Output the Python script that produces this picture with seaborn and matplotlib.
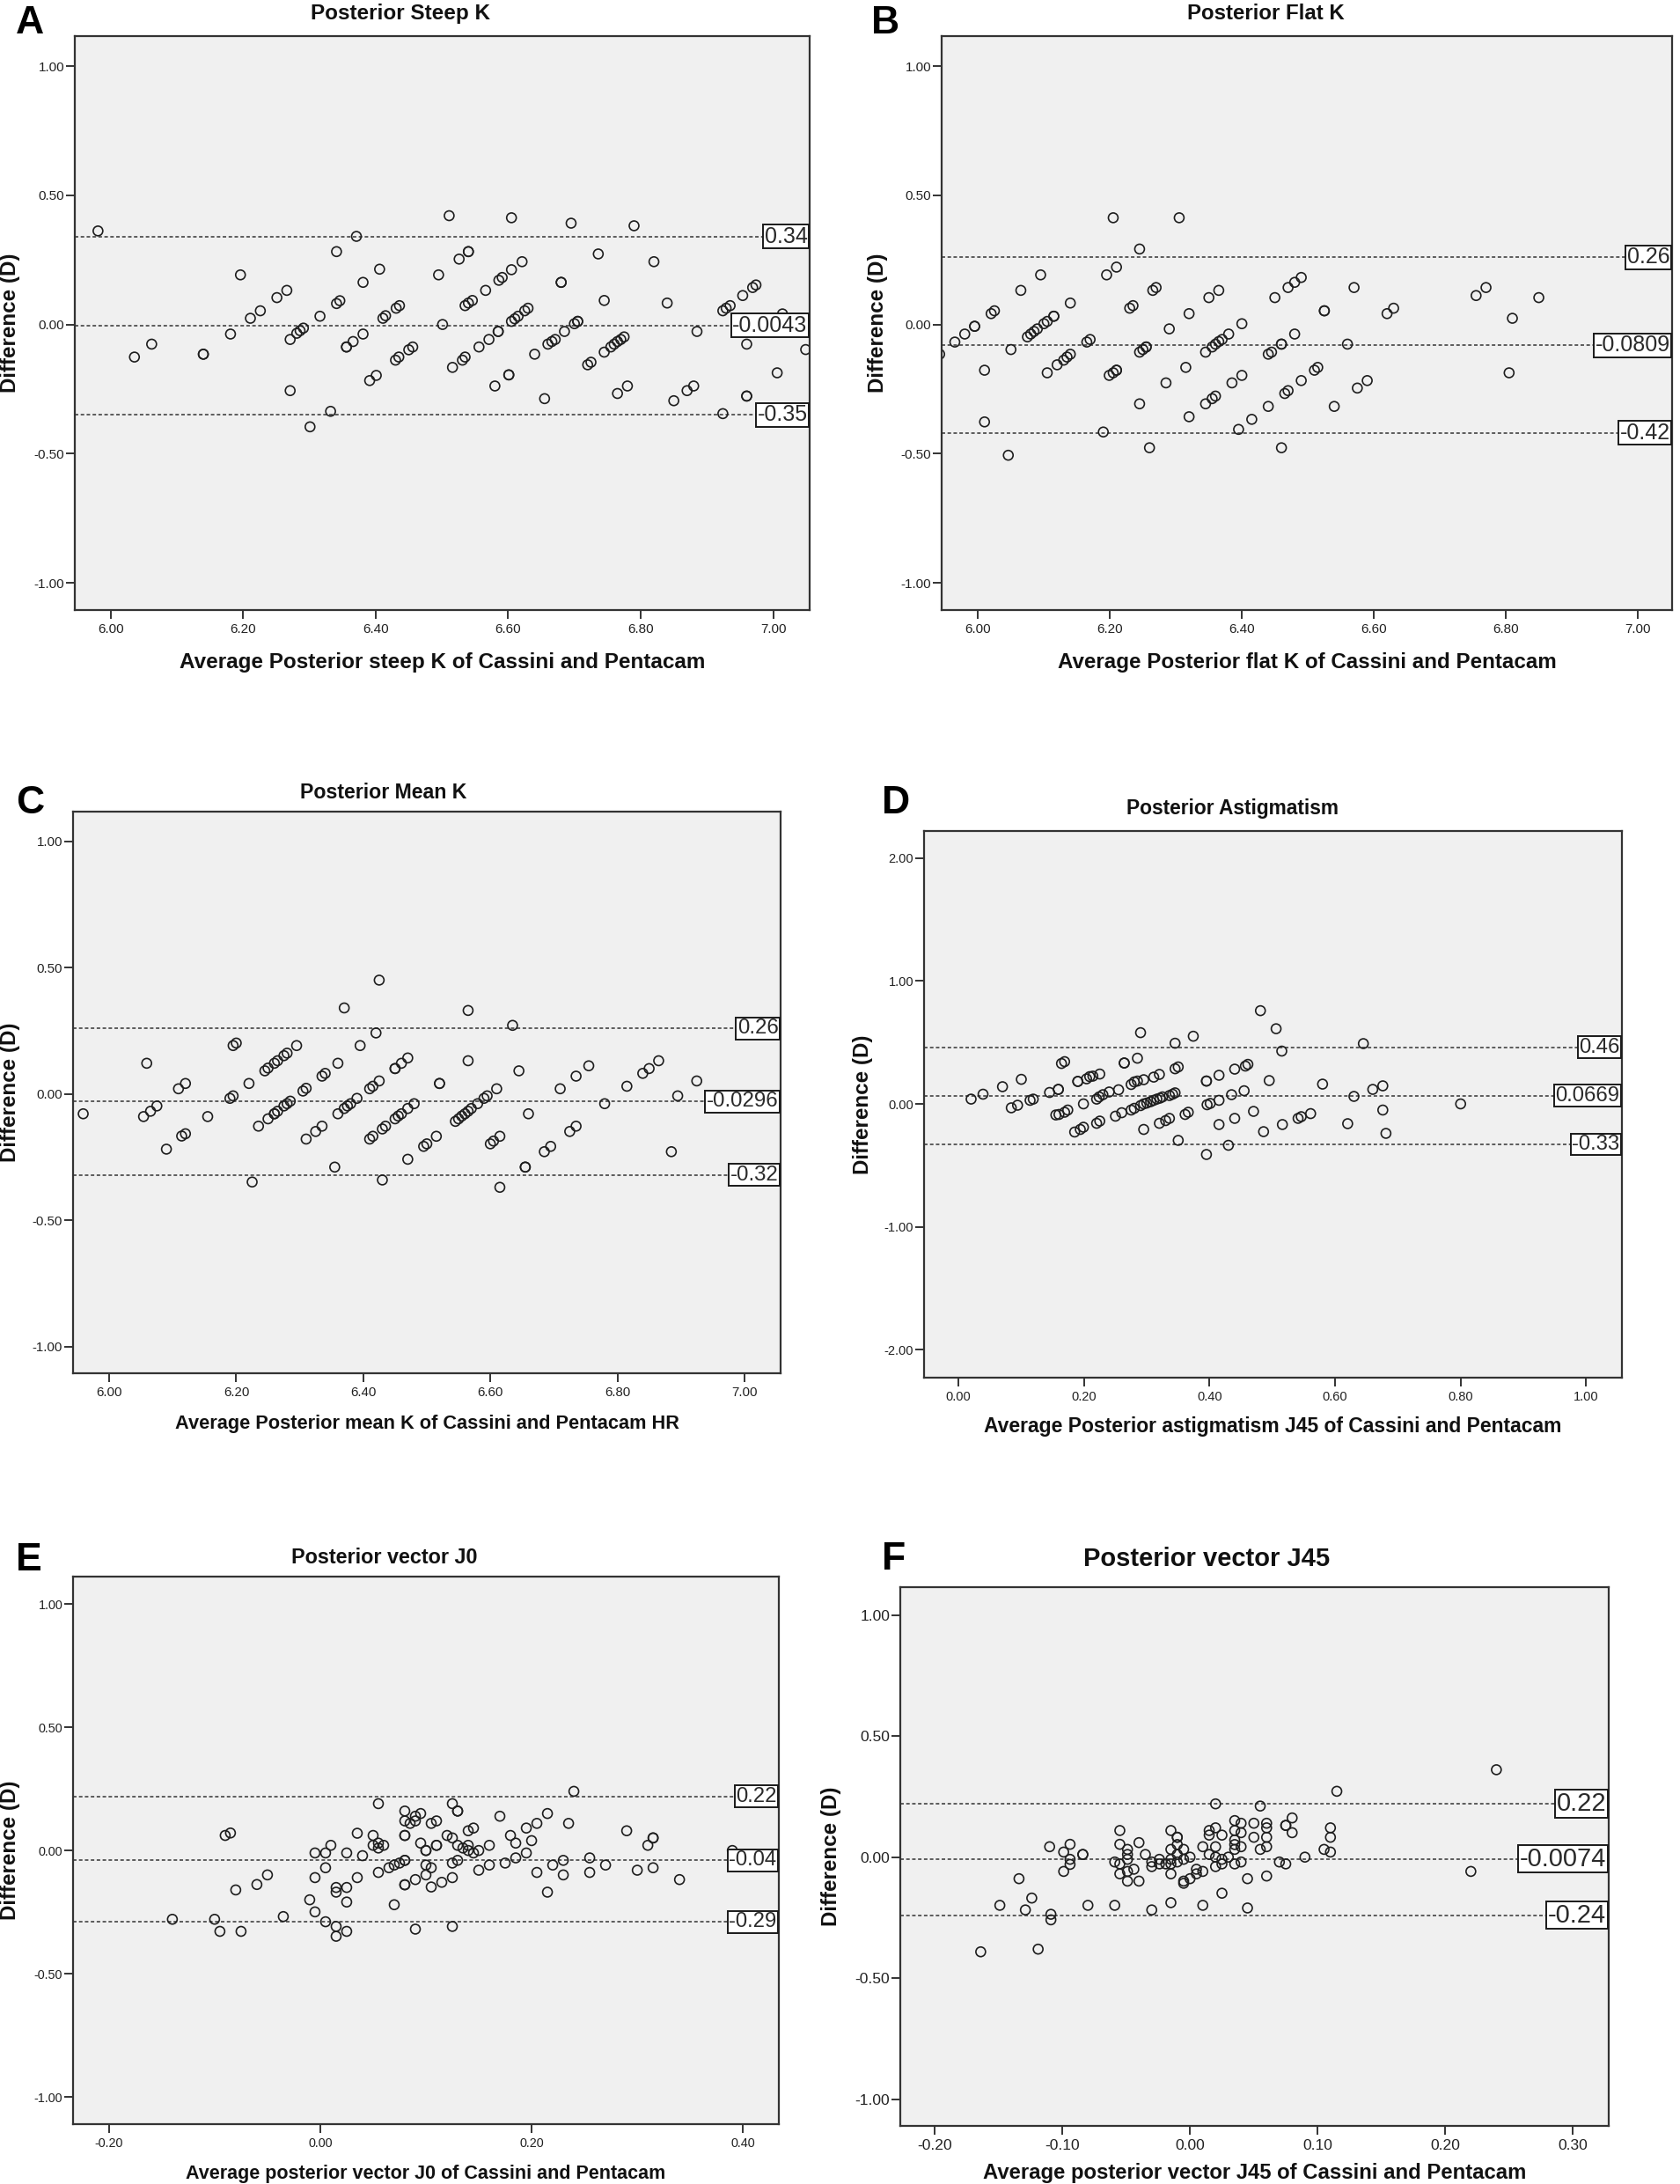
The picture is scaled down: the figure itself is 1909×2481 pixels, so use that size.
import matplotlib
matplotlib.use("Agg")
import matplotlib.pyplot as plt
import matplotlib.ticker as mticker
import matplotlib.transforms as mtransforms
import numpy as np
import seaborn as sns

# Bland-Altman data: (average, difference)
steep_k = [(5.981, 0.362), (6.036, -0.126), (6.062, -0.076), (6.140, -0.115), (6.140, -0.115), (6.181, -0.037),
           (6.196, 0.192), (6.211, 0.024), (6.226, 0.053), (6.251, 0.104), (6.266, 0.132), (6.271, -0.058),
           (6.271, -0.256), (6.281, -0.034), (6.286, -0.024), (6.291, -0.014), (6.301, -0.396), (6.316, 0.032),
           (6.332, -0.336), (6.341, 0.282), (6.341, 0.081), (6.346, 0.092), (6.356, -0.087), (6.356, -0.087),
           (6.366, -0.066), (6.371, 0.341), (6.381, 0.163), (6.381, -0.037), (6.391, -0.217), (6.401, -0.197),
           (6.406, 0.214), (6.411, 0.024), (6.415, 0.034), (6.430, -0.138), (6.435, -0.126), (6.431, 0.063),
           (6.436, 0.073), (6.450, -0.098), (6.456, -0.087), (6.495, 0.192), (6.501, 0.000), (6.511, 0.421),
           (6.516, -0.166), (6.526, 0.253), (6.531, -0.138), (6.535, -0.126), (6.535, 0.073), (6.540, 0.282),
           (6.540, 0.282), (6.540, 0.083), (6.546, 0.093), (6.556, -0.087), (6.566, 0.132), (6.571, -0.058),
           (6.580, -0.238), (6.585, -0.027), (6.585, -0.027), (6.586, 0.171), (6.591, 0.182), (6.601, -0.195),
           (6.601, -0.195), (6.605, 0.413), (6.605, 0.012), (6.605, 0.212), (6.610, 0.022), (6.615, 0.032),
           (6.621, 0.243), (6.625, 0.053), (6.630, 0.063), (6.640, -0.115), (6.655, -0.287), (6.660, -0.076),
           (6.666, -0.066), (6.671, -0.058), (6.680, 0.163), (6.680, 0.163), (6.685, -0.027), (6.695, 0.392),
           (6.700, 0.003), (6.705, 0.012), (6.705, 0.012), (6.720, -0.156), (6.725, -0.146), (6.736, 0.273),
           (6.745, 0.093), (6.745, -0.107), (6.755, -0.087), (6.760, -0.076), (6.765, -0.066), (6.770, -0.058),
           (6.775, -0.048), (6.765, -0.267), (6.780, -0.238), (6.790, 0.382), (6.820, 0.243), (6.840, 0.083),
           (6.850, -0.295), (6.870, -0.256), (6.880, -0.238), (6.885, -0.027), (6.924, 0.053), (6.929, 0.063),
           (6.935, 0.073), (6.924, -0.345), (6.954, 0.112), (6.960, -0.076), (6.960, -0.277), (6.960, -0.277),
           (6.969, 0.143), (6.974, 0.153), (7.006, -0.187), (7.014, 0.041), (7.049, -0.097)]

flat_k = [(5.942, -0.115), (5.965, -0.068), (5.980, -0.037), (5.995, -0.007), (5.995, -0.007), (6.010, -0.177),
          (6.010, -0.377), (6.020, 0.042), (6.025, 0.053), (6.046, -0.506), (6.050, -0.097), (6.065, 0.132),
          (6.075, -0.048), (6.080, -0.037), (6.085, -0.027), (6.090, -0.017), (6.095, 0.192), (6.100, 0.003),
          (6.105, 0.012), (6.105, -0.187), (6.115, 0.032), (6.115, 0.032), (6.120, -0.156), (6.130, -0.138),
          (6.135, -0.126), (6.140, -0.115), (6.140, 0.083), (6.165, -0.068), (6.170, -0.058), (6.190, -0.416),
          (6.195, 0.192), (6.199, -0.197), (6.205, 0.413), (6.205, -0.187), (6.210, -0.177), (6.210, -0.177),
          (6.210, 0.222), (6.230, 0.063), (6.235, 0.073), (6.245, 0.292), (6.245, -0.107), (6.245, -0.307),
          (6.250, -0.097), (6.255, -0.087), (6.255, -0.087), (6.260, -0.477), (6.265, 0.132), (6.270, 0.143),
          (6.285, -0.226), (6.290, -0.017), (6.305, 0.413), (6.315, -0.166), (6.320, 0.042), (6.320, -0.357),
          (6.345, -0.307), (6.345, -0.107), (6.350, 0.104), (6.355, -0.287), (6.355, -0.087), (6.360, -0.076),
          (6.360, -0.277), (6.365, -0.066), (6.365, 0.132), (6.370, -0.058), (6.380, -0.037), (6.385, -0.226),
          (6.395, -0.406), (6.400, -0.197), (6.400, 0.003), (6.415, -0.367), (6.440, -0.317), (6.440, -0.115),
          (6.445, -0.107), (6.450, 0.104), (6.460, -0.076), (6.460, -0.076), (6.460, -0.477), (6.465, -0.267),
          (6.470, -0.256), (6.470, 0.143), (6.480, -0.037), (6.480, 0.163), (6.490, 0.182), (6.490, -0.217),
          (6.510, -0.177), (6.515, -0.166), (6.525, 0.053), (6.525, 0.053), (6.540, -0.317), (6.560, -0.076),
          (6.570, 0.143), (6.575, -0.246), (6.590, -0.217), (6.620, 0.042), (6.630, 0.063), (6.755, 0.112),
          (6.770, 0.143), (6.805, -0.187), (6.810, 0.024), (6.850, 0.104)]

mean_k = [(5.959, -0.078), (6.054, -0.089), (6.059, 0.122), (6.065, -0.068), (6.075, -0.047), (6.090, -0.218),
          (6.109, 0.021), (6.114, -0.166), (6.120, 0.042), (6.120, -0.157), (6.155, -0.089), (6.190, -0.017),
          (6.195, -0.007), (6.195, 0.192), (6.200, 0.202), (6.220, 0.042), (6.225, -0.348), (6.235, -0.127),
          (6.245, 0.092), (6.250, 0.103), (6.250, -0.098), (6.260, 0.122), (6.260, -0.078), (6.260, -0.078),
          (6.265, 0.132), (6.265, -0.068), (6.275, 0.152), (6.275, -0.047), (6.280, 0.162), (6.280, -0.038),
          (6.285, -0.028), (6.295, 0.192), (6.305, 0.012), (6.310, 0.023), (6.310, -0.178), (6.325, -0.148),
          (6.335, -0.127), (6.335, 0.071), (6.340, 0.082), (6.355, -0.289), (6.360, -0.078), (6.360, 0.122),
          (6.370, 0.341), (6.370, -0.057), (6.375, -0.047), (6.380, -0.038), (6.390, -0.017), (6.395, 0.192),
          (6.410, -0.178), (6.410, 0.021), (6.415, -0.167), (6.415, 0.031), (6.420, 0.242), (6.425, 0.052),
          (6.425, 0.451), (6.430, -0.340), (6.430, -0.138), (6.435, -0.127), (6.450, -0.098), (6.450, 0.101),
          (6.450, 0.101), (6.455, -0.087), (6.460, -0.078), (6.460, 0.122), (6.470, -0.057), (6.470, 0.143),
          (6.470, -0.258), (6.480, -0.038), (6.495, -0.207), (6.500, -0.197), (6.515, -0.167), (6.520, 0.042),
          (6.520, 0.042), (6.545, -0.108), (6.550, -0.098), (6.555, -0.087), (6.560, -0.078), (6.565, -0.068),
          (6.565, 0.331), (6.565, 0.132), (6.570, -0.057), (6.580, -0.038), (6.590, -0.017), (6.595, -0.007),
          (6.600, -0.197), (6.605, -0.186), (6.610, 0.021), (6.615, -0.167), (6.615, -0.369), (6.635, 0.272),
          (6.645, 0.092), (6.655, -0.289), (6.655, -0.289), (6.660, -0.078), (6.685, -0.228), (6.695, -0.207),
          (6.710, 0.021), (6.725, -0.148), (6.735, -0.127), (6.735, 0.071), (6.755, 0.112), (6.780, -0.038),
          (6.815, 0.031), (6.840, 0.082), (6.850, 0.101), (6.865, 0.132), (6.885, -0.228), (6.895, -0.007),
          (6.925, 0.052)]

astig = [(0.020, 0.039), (0.039, 0.079), (0.070, 0.140), (0.084, -0.032), (0.094, -0.011), (0.100, 0.200),
         (0.114, 0.029), (0.119, 0.039), (0.145, 0.093), (0.155, -0.090), (0.159, 0.118), (0.159, 0.118),
         (0.160, -0.086), (0.164, 0.329), (0.169, 0.344), (0.169, -0.068), (0.174, -0.050), (0.185, -0.229),
         (0.190, 0.183), (0.190, 0.183), (0.194, -0.208), (0.199, -0.190), (0.199, 0.000), (0.204, 0.204),
         (0.209, 0.222), (0.214, 0.226), (0.220, 0.039), (0.220, -0.158), (0.224, 0.057), (0.225, -0.140),
         (0.225, 0.243), (0.230, 0.075), (0.240, 0.097), (0.250, -0.100), (0.255, 0.115), (0.260, -0.072),
         (0.264, 0.333), (0.264, 0.333), (0.275, -0.050), (0.275, 0.158), (0.280, -0.036), (0.280, 0.179),
         (0.285, 0.372), (0.285, 0.186), (0.290, 0.580), (0.290, -0.014), (0.295, -0.208), (0.295, 0.000),
         (0.295, 0.197), (0.300, 0.007), (0.306, 0.018), (0.311, 0.029), (0.311, 0.218), (0.316, 0.039),
         (0.320, -0.158), (0.320, 0.240), (0.321, 0.047), (0.325, 0.057), (0.330, -0.136), (0.336, -0.118),
         (0.336, 0.068), (0.341, 0.079), (0.345, 0.494), (0.345, 0.090), (0.345, 0.286), (0.350, 0.301),
         (0.350, -0.297), (0.361, -0.086), (0.366, -0.068), (0.374, 0.551), (0.395, 0.186), (0.395, 0.186),
         (0.395, -0.412), (0.396, -0.007), (0.401, 0.004), (0.415, -0.168), (0.415, 0.233), (0.415, 0.029),
         (0.430, -0.337), (0.435, 0.075), (0.440, -0.118), (0.440, 0.283), (0.455, 0.107), (0.457, 0.308),
         (0.461, 0.322), (0.470, -0.061), (0.481, 0.759), (0.486, -0.226), (0.495, 0.190), (0.506, 0.612),
         (0.515, 0.430), (0.516, -0.168), (0.541, -0.118), (0.546, -0.104), (0.561, -0.079), (0.580, 0.161),
         (0.620, -0.161), (0.630, 0.061), (0.645, 0.491), (0.660, 0.118), (0.676, 0.147), (0.676, -0.050),
         (0.681, -0.240), (0.800, 0.000)]

vector_j0 = [(-0.140, -0.279), (-0.100, -0.279), (-0.095, -0.328), (-0.090, 0.061), (-0.085, 0.071),
             (-0.080, -0.160), (-0.075, -0.328), (-0.060, -0.138), (-0.050, -0.099), (-0.035, -0.268),
             (-0.010, -0.200), (-0.005, -0.010), (-0.005, -0.110), (-0.005, -0.249), (0.005, -0.010),
             (0.005, -0.070), (0.005, -0.289), (0.010, 0.021), (0.015, -0.150), (0.015, -0.169), (0.015, -0.308),
             (0.015, -0.348), (0.025, -0.010), (0.025, -0.150), (0.025, -0.209), (0.025, -0.328), (0.035, 0.070),
             (0.035, -0.110), (0.040, -0.021), (0.050, 0.061), (0.050, 0.021), (0.055, 0.190), (0.055, 0.030),
             (0.055, 0.010), (0.055, -0.089), (0.060, 0.021), (0.065, -0.070), (0.070, -0.059), (0.070, -0.220),
             (0.075, -0.051), (0.080, -0.040), (0.080, -0.040), (0.080, 0.160), (0.080, 0.120), (0.080, 0.061),
             (0.080, 0.061), (0.080, -0.139), (0.080, -0.139), (0.085, 0.110), (0.090, 0.139), (0.090, 0.120),
             (0.090, -0.118), (0.090, -0.319), (0.095, 0.150), (0.095, 0.030), (0.100, 0.000), (0.100, 0.000),
             (0.100, -0.059), (0.100, -0.099), (0.105, 0.110), (0.105, -0.070), (0.105, -0.148), (0.110, 0.120),
             (0.110, 0.021), (0.110, 0.021), (0.115, -0.129), (0.120, 0.061), (0.125, 0.190), (0.125, 0.051),
             (0.125, -0.051), (0.125, -0.110), (0.125, -0.308), (0.130, 0.160), (0.130, 0.160), (0.130, 0.021),
             (0.130, -0.040), (0.135, 0.010), (0.140, 0.080), (0.140, 0.021), (0.140, 0.000), (0.145, 0.091),
             (0.145, -0.010), (0.150, 0.000), (0.150, -0.080), (0.160, 0.021), (0.160, -0.059), (0.170, 0.139),
             (0.175, -0.051), (0.180, 0.061), (0.185, 0.030), (0.185, -0.030), (0.195, 0.091), (0.195, -0.010),
             (0.200, 0.040), (0.205, 0.110), (0.205, -0.089), (0.215, 0.150), (0.215, -0.169), (0.220, -0.059),
             (0.230, -0.040), (0.230, -0.099), (0.235, 0.110), (0.240, 0.240), (0.255, -0.030), (0.255, -0.089),
             (0.270, -0.059), (0.290, 0.080), (0.300, -0.080), (0.310, 0.021), (0.315, 0.051), (0.315, 0.051),
             (0.315, -0.070), (0.340, -0.118), (0.390, 0.000)]

vector_j45 = [(-0.164, -0.391), (-0.149, -0.199), (-0.134, -0.089), (-0.129, -0.218), (-0.124, -0.169),
              (-0.119, -0.380), (-0.110, 0.043), (-0.109, -0.236), (-0.109, -0.259), (-0.099, 0.021),
              (-0.099, -0.059), (-0.094, 0.053), (-0.094, -0.009), (-0.094, -0.030), (-0.084, 0.011),
              (-0.084, 0.011), (-0.080, -0.199), (-0.059, -0.020), (-0.059, -0.199), (-0.055, 0.110),
              (-0.055, 0.053), (-0.055, -0.028), (-0.055, -0.069), (-0.049, 0.032), (-0.049, 0.011),
              (-0.049, -0.009), (-0.049, -0.059), (-0.049, -0.099), (-0.044, -0.050), (-0.040, 0.060),
              (-0.040, -0.099), (-0.035, 0.011), (-0.030, -0.020), (-0.030, -0.039), (-0.030, -0.218),
              (-0.024, -0.009), (-0.024, -0.028), (-0.019, -0.028), (-0.015, 0.110), (-0.015, 0.032),
              (-0.015, -0.009), (-0.015, -0.028), (-0.015, -0.069), (-0.015, -0.188), (-0.010, 0.082),
              (-0.010, 0.082), (-0.010, 0.052), (-0.010, 0.011), (-0.010, -0.020), (-0.005, 0.032),
              (-0.005, -0.009), (-0.005, -0.099), (-0.005, -0.108), (0.000, 0.000), (0.000, -0.089),
              (0.005, -0.050), (0.005, -0.069), (0.010, 0.043), (0.010, -0.059), (0.010, -0.199), (0.015, 0.110),
              (0.015, 0.091), (0.015, 0.011), (0.020, 0.220), (0.020, 0.121), (0.020, 0.043), (0.020, 0.000),
              (0.020, -0.039), (0.025, 0.091), (0.025, -0.009), (0.025, -0.028), (0.025, -0.149), (0.030, 0.000),
              (0.035, 0.151), (0.035, 0.110), (0.035, 0.071), (0.035, 0.052), (0.035, 0.032), (0.035, -0.028),
              (0.040, 0.140), (0.040, 0.101), (0.040, 0.043), (0.040, -0.020), (0.045, -0.089), (0.045, -0.210),
              (0.050, 0.140), (0.050, 0.082), (0.055, 0.211), (0.055, 0.032), (0.060, 0.140), (0.060, 0.121),
              (0.060, 0.082), (0.060, 0.043), (0.060, -0.078), (0.070, -0.020), (0.075, 0.131), (0.075, 0.131),
              (0.075, -0.028), (0.080, 0.162), (0.080, 0.101), (0.090, 0.000), (0.105, 0.032), (0.110, 0.121),
              (0.110, 0.082), (0.110, 0.021), (0.115, 0.272), (0.220, -0.059), (0.240, 0.361)]

# upper limit of agreement, mean difference, lower limit of agreement
steep_k_lines = [0.34, -0.0043, -0.35]
flat_k_lines = [0.26, -0.0809, -0.42]
mean_k_lines = [0.26, -0.0296, -0.32]
astig_lines = [0.46, 0.0669, -0.33]
j0_lines = [0.22, -0.04, -0.29]
j45_lines = [0.22, -0.0074, -0.24]

steep_k_labels = ["0.34", "-0.0043", "-0.35"]
flat_k_labels = ["0.26", "-0.0809", "-0.42"]
mean_k_labels = ["0.26", "-0.0296", "-0.32"]
astig_labels = ["0.46", "0.0669", "-0.33"]
j0_labels = ["0.22", "-0.04", "-0.29"]
j45_labels = ["0.22", "-0.0074", "-0.24"]

titles = ["Posterior Steep K", "Posterior Flat K", "Posterior Mean K",
          "Posterior Astigmatism", "Posterior vector J0", "Posterior vector J45"]
xlabels = ["Average Posterior steep K of Cassini and Pentacam",
           "Average Posterior flat K of Cassini and Pentacam",
           "Average Posterior mean K of Cassini and Pentacam HR",
           "Average Posterior astigmatism J45 of Cassini and Pentacam",
           "Average posterior vector J0 of Cassini and Pentacam",
           "Average posterior vector J45 of Cassini and Pentacam"]
letters = ["A", "B", "C", "D", "E", "F"]

k_ticks = [6.0, 6.2, 6.4, 6.6, 6.8, 7.0]
astig_ticks = [0.0, 0.2, 0.4, 0.6, 0.8, 1.0]
j0_ticks = [-0.2, 0.0, 0.2, 0.4]
j45_ticks = [-0.2, -0.1, 0.0, 0.1, 0.2, 0.3]
diff_ticks = [-1.0, -0.5, 0.0, 0.5, 1.0]
astig_diff_ticks = [-2.0, -1.0, 0.0, 1.0, 2.0]

sns.set_style("white")
plt.rcParams["font.family"] = ["Liberation Sans", "DejaVu Sans"]

W, H = 1909, 2481
fig = plt.figure(figsize=(W / 100, H / 100), dpi=100)


def fx(px):
    return px / W


def fy(py):
    return 1 - py / H


panels = [
    dict(pts=steep_k, lines=steep_k_lines, labels=steep_k_labels, box=(85, 920, 41, 693),
         xlim=(5.946, 7.055), ylim=(-1.105, 1.116), xticks=k_ticks, yticks=diff_ticks,
         title_xy=(455, 22), title_fs=17.5, letter_xy=(18, 38), xlabel_y=752, xlabel_fs=17.5,
         ylabel_x=12, tick_fs=11, lab_fs=18),
    dict(pts=flat_k, lines=flat_k_lines, labels=flat_k_labels, box=(1070, 1900, 41, 693),
         xlim=(5.945, 7.052), ylim=(-1.105, 1.116), xticks=k_ticks, yticks=diff_ticks,
         title_xy=(1438, 22), title_fs=17.3, letter_xy=(990, 38), xlabel_y=752, xlabel_fs=17.4,
         ylabel_x=998, tick_fs=11, lab_fs=18),
    dict(pts=mean_k, lines=mean_k_lines, labels=mean_k_labels, box=(83, 887, 922, 1560),
         xlim=(5.943, 7.057), ylim=(-1.105, 1.118), xticks=k_ticks, yticks=diff_ticks,
         title_xy=(436, 907), title_fs=16.7, letter_xy=(18, 924), xlabel_y=1617, xlabel_fs=15.7,
         ylabel_x=12, tick_fs=10.8, lab_fs=17.3),
    dict(pts=astig, lines=astig_lines, labels=astig_labels, box=(1050, 1843, 944, 1565),
         xlim=(-0.055, 1.057), ylim=(-2.229, 2.222), xticks=astig_ticks, yticks=astig_diff_ticks,
         title_xy=(1400, 925), title_fs=16.4, letter_xy=(1002, 924), xlabel_y=1620, xlabel_fs=16.5,
         ylabel_x=981, tick_fs=10.5, lab_fs=17.2),
    dict(pts=vector_j0, lines=j0_lines, labels=j0_labels, box=(83, 885, 1791, 2413),
         xlim=(-0.234, 0.434), ylim=(-1.11, 1.111), xticks=j0_ticks, yticks=diff_ticks,
         title_xy=(437, 1776), title_fs=16.8, letter_xy=(18, 1784), xlabel_y=2469, xlabel_fs=15.5,
         ylabel_x=12, tick_fs=10.4, lab_fs=17.2),
    dict(pts=vector_j45, lines=j45_lines, labels=j45_labels, box=(1023, 1828, 1803, 2415),
         xlim=(-0.227, 0.328), ylim=(-1.11, 1.115), xticks=j45_ticks, yticks=diff_ticks,
         title_xy=(1371, 1779), title_fs=21, letter_xy=(1002, 1783), xlabel_y=2469, xlabel_fs=17.2,
         ylabel_x=945, tick_fs=12.6, lab_fs=21),
]

for i, p in enumerate(panels):
    left, right, top, bottom = p["box"]
    ax = fig.add_axes([fx(left), fy(bottom), (right - left) / W, (bottom - top) / H])
    ax.set_facecolor("#f0f0f0")

    xs = [pt[0] for pt in p["pts"]]
    ys = [pt[1] for pt in p["pts"]]
    sns.scatterplot(x=xs, y=ys, ax=ax, marker="o", s=62, facecolor="none",
                    edgecolor="#1e1e1e", linewidth=1.2, zorder=2)

    width_px = right - left
    pad_px = 0.06 * p["lab_fs"] * 100 / 72
    trans = mtransforms.blended_transform_factory(ax.transAxes, ax.transData)
    for val, lab in zip(p["lines"], p["labels"]):
        ax.axhline(val, color="#333333", lw=1.1, ls=(0, (2.6, 1.8)), zorder=1)
        ax.text(1 - (pad_px + 1) / width_px, val, lab, transform=trans, ha="right", va="center",
                fontsize=p["lab_fs"], color="#2a2a2a", zorder=5,
                bbox=dict(boxstyle="square,pad=0.06", fc="white", ec="#1a1a1a", lw=1.4))

    ax.set_xlim(*p["xlim"])
    ax.set_ylim(*p["ylim"])
    ax.set_xticks(p["xticks"])
    ax.set_yticks(p["yticks"])
    ax.xaxis.set_major_formatter(mticker.FormatStrFormatter("%.2f"))
    ax.yaxis.set_major_formatter(mticker.FormatStrFormatter("%.2f"))
    ax.tick_params(axis="both", which="major", direction="out", length=7.5, width=1.4,
                   color="#333333", labelsize=p["tick_fs"], labelcolor="#222222",
                   left=True, bottom=True, top=False, right=False)
    ax.tick_params(axis="y", pad=1)
    ax.tick_params(axis="x", pad=3)
    for sp in ax.spines.values():
        sp.set_color("#333333")
        sp.set_linewidth(1.6)
        sp.set_visible(True)
    ax.set_xlabel("")
    ax.set_ylabel("")

    cx = (left + right) / 2
    cy = (top + bottom) / 2
    fig.text(fx(p["title_xy"][0]), fy(p["title_xy"][1]), titles[i], ha="center", va="baseline",
             fontsize=p["title_fs"], fontweight="bold", color="#111111")
    fig.text(fx(p["letter_xy"][0]), fy(p["letter_xy"][1]), letters[i], ha="left", va="baseline",
             fontsize=32, fontweight="bold", color="black")
    fig.text(fx(cx), fy(p["xlabel_y"]), xlabels[i], ha="center", va="center",
             fontsize=p["xlabel_fs"], fontweight="bold", color="#111111")
    fig.text(fx(p["ylabel_x"]), fy(cy), "Difference (D)", ha="center", va="center", rotation=90,
             fontsize=17.4, fontweight="bold", color="#111111")

fig.savefig("out.png", dpi=100, facecolor="white")
